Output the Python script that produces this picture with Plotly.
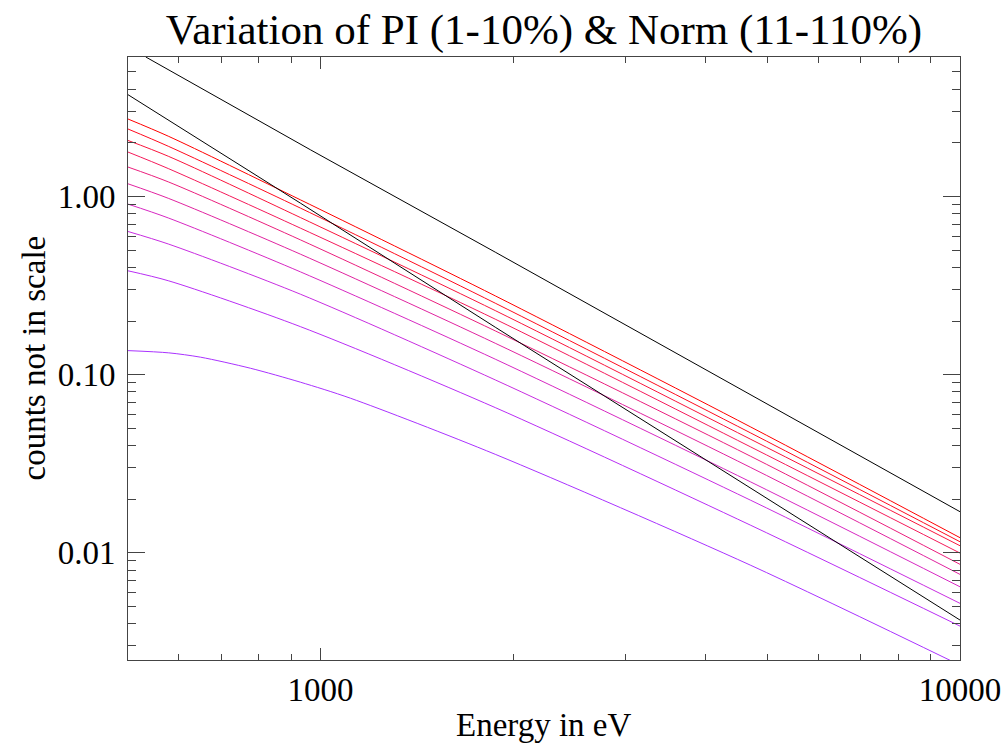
import plotly.graph_objects as go

# Energy grid (eV) at which the model curves were tabulated
energy_ev = [500, 579, 930, 1876, 4698, 10000]

# Counts for the ten PI / Norm variations (top = red, bottom = purple)
counts_01 = [2.722, 2.174, 0.958, 0.2768, 0.0510, 0.01215]
counts_02 = [2.392, 1.909, 0.861, 0.2518, 0.0472, 0.01153]
counts_03 = [2.063, 1.678, 0.762, 0.2288, 0.0435, 0.01095]
counts_04 = [1.776, 1.431, 0.6645, 0.2048, 0.0394, 0.00996]
counts_05 = [1.463, 1.205, 0.571, 0.176, 0.0349, 0.00861]
counts_06 = [1.178, 0.9745, 0.4746, 0.150, 0.0302, 0.00756]
counts_07 = [0.906, 0.756, 0.3776, 0.1221, 0.02506, 0.00644]
counts_08 = [0.636, 0.540, 0.2829, 0.0934, 0.01977, 0.00520]
counts_09 = [0.3826, 0.336, 0.186, 0.0653, 0.01431, 0.003875]

# The lowest curve bends over at low energy, so it is tabulated more finely
energy_low_ev = [500, 579, 649, 777, 930, 1114, 1876, 4698, 10000]
counts_10 = [0.1364, 0.1325, 0.1253, 0.1086, 0.0907, 0.0737, 0.0357, 0.00853, 0.00234]

# Two reference power laws (black)
ref_a_energy = [533, 964, 1876, 4698, 10000]
ref_a_counts = [6.07, 1.83, 0.487, 0.0776, 0.0170]
ref_b_energy = [500, 579, 930, 1876, 4698, 10000]
ref_b_counts = [3.727, 2.673, 0.918, 0.1846, 0.0230, 0.00419]

line_colors = [
    "rgb(255,0,0)", "rgb(255,10,30)", "rgb(250,20,60)", "rgb(245,25,90)",
    "rgb(235,30,125)", "rgb(225,35,160)", "rgb(215,40,195)", "rgb(200,45,225)",
    "rgb(185,45,245)", "rgb(170,50,255)",
]

x_major = [1000, 10000]
x_major_text = ["1000", "10000"]
x_minor = [600, 700, 800, 900, 2000, 3000, 4000, 5000, 6000, 7000, 8000, 9000]
y_major = [0.01, 0.1, 1.0]
y_major_text = ["0.01", "0.10", "1.00"]
y_minor = [0.003, 0.004, 0.005, 0.006, 0.007, 0.008, 0.009,
           0.02, 0.03, 0.04, 0.05, 0.06, 0.07, 0.08, 0.09,
           0.2, 0.3, 0.4, 0.5, 0.6, 0.7, 0.8, 0.9,
           2, 3, 4, 5, 6]

FONT = "Liberation Serif, Times New Roman, serif"
AXIS_COLOR = "#444444"

fig = go.Figure()

curves = [counts_01, counts_02, counts_03, counts_04, counts_05,
          counts_06, counts_07, counts_08, counts_09]
for vals, col in zip(curves, line_colors[:9]):
    fig.add_trace(go.Scatter(x=energy_ev, y=vals, mode="lines",
                             line=dict(color=col, width=1, shape="spline", smoothing=0.8),
                             showlegend=False))
fig.add_trace(go.Scatter(x=energy_low_ev, y=counts_10, mode="lines",
                         line=dict(color=line_colors[9], width=1, shape="spline", smoothing=0.8),
                         showlegend=False))

for ex, cy in [(ref_a_energy, ref_a_counts), (ref_b_energy, ref_b_counts)]:
    fig.add_trace(go.Scatter(x=ex, y=cy, mode="lines",
                             line=dict(color="black", width=1), showlegend=False))

axis_common = dict(
    type="log", showgrid=False, zeroline=False, automargin=False,
    showline=True, linecolor=AXIS_COLOR, linewidth=1, mirror="allticks",
    ticks="inside", tickcolor=AXIS_COLOR, tickwidth=1,
    tickfont=dict(family=FONT, size=33, color="black"),
)

fig.update_layout(
    width=1006, height=747,
    margin=dict(l=128, r=46, t=57, b=87),
    paper_bgcolor="white", plot_bgcolor="white",
    title=dict(text="Variation of PI (1-10%) & Norm (11-110%)",
               font=dict(family=FONT, size=43, color="black"),
               x=544 / 1006, xanchor="center", y=1 - 29 / 747, yanchor="middle",
               xref="container", yref="container"),
    xaxis=dict(axis_common, range=[2.69897, 4.0],
               tickmode="array", tickvals=x_major, ticktext=x_major_text,
               ticklen=12, ticklabelstandoff=0,
               minor=dict(tickmode="array", tickvals=x_minor, ticks="inside",
                          ticklen=6, tickcolor=AXIS_COLOR, tickwidth=1)),
    yaxis=dict(axis_common, range=[-2.602, 0.783],
               tickmode="array", tickvals=y_major, ticktext=y_major_text,
               ticklen=17, ticklabelstandoff=5,
               minor=dict(tickmode="array", tickvals=y_minor, ticks="inside",
                          ticklen=8, tickcolor=AXIS_COLOR, tickwidth=1)),
    annotations=[
        dict(text="Energy in eV", xref="paper", yref="paper",
             x=0.5, y=-(725 - 660) / (660 - 57), xanchor="center", yanchor="middle",
             showarrow=False, font=dict(family=FONT, size=33, color="black")),
        dict(text="counts not in scale", xref="paper", yref="paper",
             x=-(128 - 33) / (960 - 128), y=0.5, xanchor="center", yanchor="middle",
             textangle=-90, showarrow=False,
             font=dict(family=FONT, size=33, color="black")),
    ],
)

fig.write_html("out.html")
